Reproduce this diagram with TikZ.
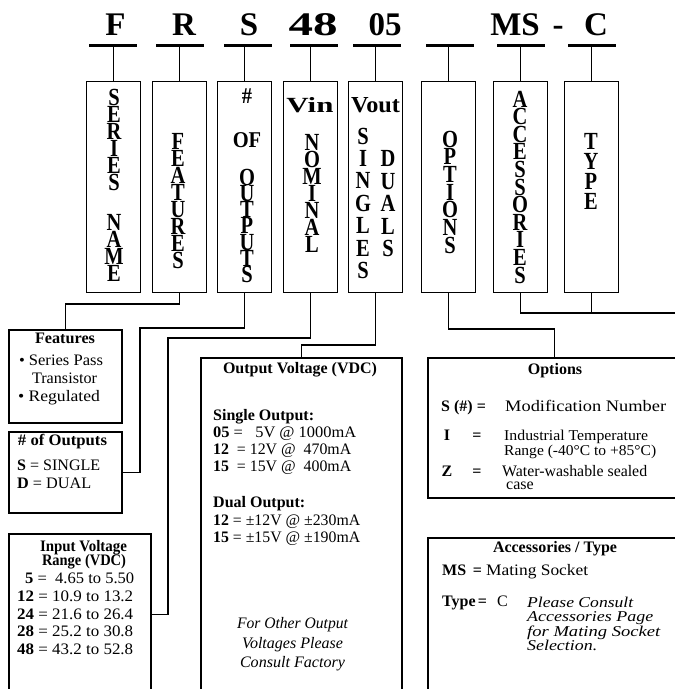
\documentclass[tikz,border=0pt]{standalone}
\usepackage{fontspec}
\setmainfont{Liberation Serif}
\usepackage{graphicx}
\newcommand\fitw[2]{\resizebox{#1pt}{\height}{#2}}
\newcommand\vw[5]{\foreach \ch [count=\i from 0] in {#5} {\node[vl] (#1\i) at (#2,{#3+\i*#4}) {\scalebox{1}[1.2]{\ch}};}}
\begin{document}
\begin{tikzpicture}[x=1pt,y=-1pt,
  tall/.style={draw, line width=0.9pt, minimum width=54pt, minimum height=211pt, inner sep=0pt, anchor=north west},
  info/.style={draw, line width=2.4pt, inner sep=0pt, anchor=north west},
  hdr/.style={font=\fontsize{33}{33}\selectfont\bfseries, anchor=base, inner sep=0pt},
  vl/.style={font=\fontsize{20.5}{20}\selectfont\bfseries, anchor=base, inner sep=0pt},
  txt/.style={font=\fontsize{16}{18}\selectfont, anchor=base west, inner sep=0pt},
  ctxt/.style={font=\fontsize{16}{18}\selectfont, anchor=base, inner sep=0pt},
  small/.style={font=\fontsize{15}{16}\selectfont},
  ul/.style={fill=black, inner sep=0pt, minimum height=3pt, minimum width=48pt},
  wire/.style={line width=1.2pt},
  stem/.style={line width=0.9pt}]
\useasboundingbox (0,0) rectangle (675,689);
\clip (0,0) rectangle (675,689);

% header code letters
\node[hdr] (hF) at (115.5,35) {F};
\node[hdr] (hR) at (184,35) {R};
\node[hdr] (hS) at (249,35) {S};
\node[hdr] (h48) at (313,35) {\resizebox{49pt}{\height}{48}};
\node[hdr] (h05) at (385,35) {05};
\node[hdr] (hMS) at (515,35) {MS};
\node[hdr] (hdash) at (558,35) {-};
\node[hdr] (hC) at (596,35) {C};

% underlines
\node[ul] (u1) at (113,45) {};
\node[ul] (u2) at (180,45) {};
\node[ul] (u3) at (247.5,45) {};
\node[ul] (u4) at (313.5,45) {};
\node[ul] (u5) at (376.5,45) {};
\node[ul] (u6) at (450,45) {};
\node[ul] (u7) at (521,45) {};
\node[ul] (u8) at (592,45) {};

% tall boxes
\node[tall] (b1) at (86,81) {};
\node[tall] (b2) at (152,81) {};
\node[tall] (b3) at (217,81) {};
\node[tall] (b4) at (283,81) {};
\node[tall] (b5) at (348,81) {};
\node[tall] (b6) at (421,81) {};
\node[tall] (b7) at (493,81) {};
\node[tall] (b8) at (564,81) {};

\foreach \k in {1,...,8} {\draw[stem] (b\k.north) -- (b\k.north |- u\k.south);}

% vertical words
\vw{sa}{114}{105}{17}{S,E,R,I,E,S}
\vw{na}{114}{230}{17}{N,A,M,E}
\vw{fe}{178}{149}{17}{F,E,A,T,U,R,E,S}
\node[vl] (hash) at (247,103) {\scalebox{1}[1.1]{\#}};
\node[vl] (of) at (247,147) {\scalebox{1}[1.1]{OF}};
\vw{ou}{247}{185}{16.3}{O,U,T,P,U,T,S}
\node[vl] (vin) at (310,112) {\resizebox{47pt}{15pt}{Vin}};
\vw{no}{312}{150}{17}{N,O,M,I,N,A,L}
\node[vl] (vout) at (375.5,112) {\resizebox{49pt}{15pt}{Vout}};
\vw{si}{363}{144}{22.4}{S,I,N,G,L,E,S}
\vw{du}{388}{166.5}{22.5}{D,U,A,L,S}
\vw{op}{450}{147}{17.7}{O,P,T,I,O,N,S}
\vw{ac}{520}{107}{17.6}{A,C,C,E,S,S,O,R,I,E,S}
\vw{ty}{591}{149}{20.3}{T,Y,P,E}

% info boxes
\node[info, minimum width=113pt, minimum height=93pt] (feat) at (8,329) {};
\node[info, minimum width=113pt, minimum height=81pt] (outs) at (8,431) {};
\node[info, minimum width=142pt, minimum height=160pt] (inv) at (8,533) {};
\node[info, minimum width=201pt, minimum height=336pt] (outv) at (200,357) {};
\node[info, minimum width=253pt, minimum height=140pt] (opts) at (427,357) {};
\node[info, minimum width=253pt, minimum height=156pt] (acc) at (427,537) {};

% connectors
\coordinate (k3) at (140,328);
\coordinate (k4) at (168,338);
\coordinate (kR) at (680,313);
\draw[wire] (b2.south) -- ++(0,11) -| (feat.north);
\draw[wire] (b3.south) |- (k3) |- (outs.east);
\draw[wire] (b4.south) |- (k4) |- (inv.east);
\draw[wire] (b5.south) -- ++(0,52) -| (outv.north);
\draw[wire] (b6.south) -- ++(0,36) -| (opts.north);
\draw[wire] (b7.south) |- (kR);
\draw[wire] (b8.south) -- (b8.south |- kR);

% Features
\node[ctxt] (ft0) at (65,343) {\fitw{60}{\bfseries Features}};
\node[ctxt] (ft1) at (61,365) {\fitw{84}{• Series Pass}};
\node[ctxt] (ft2) at (64.5,383) {\fitw{65}{Transistor}};
\node[ctxt] (ft3) at (59,401) {\fitw{82}{• Regulated}};

% # of outputs
\node[ctxt] (o0) at (62.5,445) {\fitw{89}{\bfseries \# of Outputs}};
\node[txt] (o1) at (17,470) {\fitw{83}{\textbf{S} = SINGLE}};
\node[txt] (o2) at (17,488) {\fitw{74}{\textbf{D} = DUAL}};

% input voltage
\node[ctxt] (iv0) at (83.5,551) {\fitw{87}{\bfseries Input Voltage}};
\node[ctxt] (iv1) at (84,565) {\fitw{84}{\bfseries Range (VDC)}};
\node[txt] (iv2) at (25,583) {\fitw{109}{\textbf{5} =\ \ 4.65 to 5.50}};
\node[txt] (iv3) at (17,601) {\fitw{116}{\textbf{12} = 10.9 to 13.2}};
\node[txt] (iv4) at (17,619) {\fitw{116}{\textbf{24} = 21.6 to 26.4}};
\node[txt] (iv5) at (17,636) {\fitw{116}{\textbf{28} = 25.2 to 30.8}};
\node[txt] (iv6) at (17,654) {\fitw{116}{\textbf{48} = 43.2 to 52.8}};

% output voltage
\node[ctxt] (ov0) at (300,373) {\fitw{154}{\bfseries Output Voltage (VDC)}};
\node[txt] (ov1) at (213,420) {\bfseries Single Output:};
\node[txt] (ov2) at (213,437) {\fitw{143}{\textbf{05} =\ \ \ 5V @ 1000mA}};
\node[txt] (ov3) at (213,454) {\fitw{138}{\textbf{12}\ \ = 12V @\ \ 470mA}};
\node[txt] (ov4) at (213,471) {\fitw{138}{\textbf{15}\ \ = 15V @\ \ 400mA}};
\node[txt] (ov5) at (213,507) {\bfseries Dual Output:};
\node[txt] (ov6) at (213,525) {\fitw{147}{\textbf{12} = ±12V @ ±230mA}};
\node[txt] (ov7) at (213,542) {\fitw{147}{\textbf{15} = ±15V @ ±190mA}};
\node[ctxt] (ov8) at (292.5,628) {\fitw{111}{\itshape For Other Output}};
\node[ctxt] (ov9) at (292.5,648) {\fitw{101}{\itshape Voltages Please}};
\node[ctxt] (ov10) at (292.5,667) {\fitw{105}{\itshape Consult Factory}};

% options
\node[ctxt] (op0) at (555,374) {\bfseries Options};
\node[txt] (op1) at (441,411) {\bfseries S (\#) =};
\node[txt] (op2) at (505,411) {\fitw{161}{Modification Number}};
\node[ctxt] (op3) at (447,440) {\bfseries I};
\node[ctxt] (op4) at (477,440) {\bfseries =};
\node[txt, small] (op5) at (504,440) {\fitw{144}{Industrial Temperature}};
\node[txt, small] (op6) at (504,455) {\fitw{152}{Range (-40°C to +85°C)}};
\node[ctxt] (op7) at (447,476) {\bfseries Z};
\node[ctxt] (op8) at (477,476) {\bfseries =};
\node[txt] (op9) at (502,476) {\fitw{145}{Water-washable sealed}};
\node[txt] (op10) at (506,489) {case};

% accessories / type
\node[ctxt] (ac0) at (555,552) {\fitw{124}{\bfseries Accessories / Type}};
\node[txt] (ac1) at (442,575) {\bfseries MS};
\node[ctxt] (ac2) at (477.5,575) {\bfseries =};
\node[txt] (ac3) at (486,575) {\fitw{102}{Mating Socket}};
\node[txt] (ac4) at (442,606) {\bfseries Type};
\node[ctxt] (ac5) at (482.5,606) {\bfseries =};
\node[txt] (ac6) at (497,606) {C};
\node[txt, small] (ac7) at (527,607) {\fitw{106}{\itshape Please Consult}};
\node[txt, small] (ac8) at (527,621.5) {\fitw{126}{\itshape Accessories Page}};
\node[txt, small] (ac9) at (527,636) {\fitw{133}{\itshape for Mating Socket}};
\node[txt, small] (ac10) at (527,650.5) {\fitw{70}{\itshape Selection.}};
\end{tikzpicture}
\end{document}
